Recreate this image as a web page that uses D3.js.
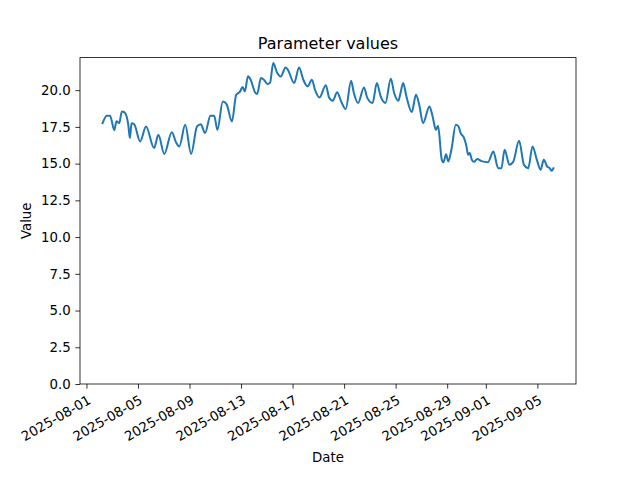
<!DOCTYPE html>
<html>
<head>
<meta charset="utf-8">
<script src="https://cdn.jsdelivr.net/npm/d3@7"></script>
<style>
  html, body { margin: 0; padding: 0; background: #fff; }
  svg { display: block; font-family: "DejaVu Sans", sans-serif; }
</style>
</head>
<body>
<svg id="chart" width="640" height="480"></svg>
<script>
const times = [
  "2025-08-02T06","2025-08-02T14","2025-08-02T20","2025-08-03T04","2025-08-03T08","2025-08-03T13",
  "2025-08-03T18","2025-08-03T23","2025-08-04T06","2025-08-04T09","2025-08-04T12","2025-08-04T17",
  "2025-08-05T04","2025-08-05T15","2025-08-06T06","2025-08-06T14","2025-08-07T01","2025-08-07T15",
  "2025-08-07T23","2025-08-08T05","2025-08-08T16","2025-08-09T03","2025-08-09T14","2025-08-09T21",
  "2025-08-10T05","2025-08-10T15","2025-08-10T22","2025-08-11T04","2025-08-11T14","2025-08-11T21",
  "2025-08-12T07","2025-08-12T15","2025-08-12T22","2025-08-13T03","2025-08-13T07","2025-08-13T13",
  "2025-08-13T18","2025-08-14T02","2025-08-14T06","2025-08-14T13","2025-08-14T19","2025-08-15T01",
  "2025-08-15T06","2025-08-15T12","2025-08-15T19","2025-08-16T02","2025-08-16T11","2025-08-16T15",
  "2025-08-17T03","2025-08-17T12","2025-08-17T20","2025-08-18T04","2025-08-18T12","2025-08-18T18",
  "2025-08-19T02","2025-08-19T14","2025-08-19T20","2025-08-20T03","2025-08-20T11","2025-08-20T19",
  "2025-08-21T03","2025-08-21T13","2025-08-21T18","2025-08-22T02","2025-08-22T13","2025-08-22T19",
  "2025-08-23T05","2025-08-23T13","2025-08-23T20","2025-08-24T05","2025-08-24T15","2025-08-24T21",
  "2025-08-25T05","2025-08-25T09","2025-08-25T14","2025-08-25T20","2025-08-26T06","2025-08-26T14",
  "2025-08-26T20","2025-08-27T03","2025-08-27T15","2025-08-27T21","2025-08-28T03","2025-08-28T07",
  "2025-08-28T14","2025-08-28T17","2025-08-28T22","2025-08-29T02","2025-08-29T08","2025-08-29T16",
  "2025-08-29T21","2025-08-30T01","2025-08-30T07","2025-08-30T12","2025-08-30T15","2025-08-30T18",
  "2025-08-30T22","2025-08-31T02","2025-08-31T08","2025-08-31T16","2025-09-01T04","2025-09-01T14",
  "2025-09-01T23","2025-09-02T05","2025-09-02T11","2025-09-02T20","2025-09-03T03","2025-09-03T14",
  "2025-09-03T23","2025-09-04T07","2025-09-04T15","2025-09-04T23","2025-09-05T06","2025-09-05T12",
  "2025-09-05T18","2025-09-05T23","2025-09-06T03","2025-09-06T06"
];
const values = [
  17.75,18.26,18.26,17.28,17.89,17.75,
  18.55,18.49,17.63,16.74,17.75,17.68,
  16.51,17.53,16.06,16.96,15.66,17.14,
  16.44,16.17,17.64,15.66,17.53,17.68,
  17.08,18.26,18.26,17.3,19.23,19.05,
  17.87,19.68,19.9,20.22,19.92,20.95,
  20.7,19.86,19.74,20.82,20.7,20.42,
  20.5,21.85,21.2,20.93,21.55,21.4,
  20.49,21.55,20.71,20.26,20.71,20.0,
  19.5,20.34,19.5,19.28,19.86,19.19,
  18.71,20.64,19.84,19.12,20.19,19.49,
  19.12,20.49,19.59,19.12,20.78,19.84,
  19.28,19.79,20.49,19.59,18.51,19.68,
  18.99,17.75,18.89,18.19,17.3,17.57,
  15.26,15.1,15.64,15.14,15.98,17.64,
  17.53,17.08,16.78,16.17,15.6,15.72,
  15.26,15.12,15.32,15.17,15.1,15.83,
  14.69,14.69,15.94,14.92,15.12,16.55,
  14.92,14.69,16.17,15.27,14.58,15.26,
  14.82,14.69,14.51,14.69
];
const xTickLabels = ["2025-08-01","2025-08-05","2025-08-09","2025-08-13","2025-08-17",
                     "2025-08-21","2025-08-25","2025-08-29","2025-09-01","2025-09-05"];
const yTickValues = [0, 2.5, 5, 7.5, 10, 12.5, 15, 17.5, 20];
const titleText = "Parameter values";
const xLabelText = "Date";
const yLabelText = "Value";

const parseT = d3.timeParse("%Y-%m-%dT%H");
const parseD = d3.timeParse("%Y-%m-%d");
const data = times.map((t, i) => ({ t: parseT(t), v: values[i] }));
const xTicks = xTickLabels.map(parseD);

const W = 640, H = 480;
const L = 80, R = 576, T = 57.6, B = 384;
const svg = d3.select("#chart");

const ext = d3.extent(data, d => +d.t);
const pad = (ext[1] - ext[0]) * 0.05;
const x = d3.scaleTime().domain([new Date(ext[0] - pad), new Date(ext[1] + pad)]).range([L, R]);
const vmax = d3.max(values), vmin = d3.min(values);
const y = d3.scaleLinear().domain([0, vmax + 0.05 * (vmax - vmin)]).range([B, T]);

const tickLen = 4.67;
const fs = "13.33px";

// y axis
const yAxis = svg.append("g").attr("transform", `translate(${L},0)`)
  .call(d3.axisLeft(y).tickValues(yTickValues).tickFormat(d3.format(".1f"))
        .tickSizeOuter(0).tickSizeInner(tickLen).tickPadding(4.67));
yAxis.select(".domain").remove();
yAxis.selectAll("line").attr("stroke", "#000").attr("stroke-width", 0.8);
yAxis.selectAll("text").attr("font-size", fs).attr("font-family", "DejaVu Sans").attr("fill", "#000");

// x axis
const xAxis = svg.append("g").attr("transform", `translate(0,${B})`)
  .call(d3.axisBottom(x).tickValues(xTicks).tickFormat(d3.timeFormat("%Y-%m-%d"))
        .tickSizeOuter(0).tickSizeInner(tickLen));
xAxis.select(".domain").remove();
xAxis.selectAll("line").attr("stroke", "#000").attr("stroke-width", 0.8);
xAxis.selectAll("text")
  .attr("font-size", fs).attr("font-family", "DejaVu Sans").attr("fill", "#000")
  .attr("text-anchor", "end")
  .attr("dy", "0.75em")
  .attr("y", 0)
  .attr("transform", `translate(0,${tickLen + 5.5}) rotate(-30)`);

// line
const line = d3.line().x(d => x(d.t)).y(d => y(d.v)).curve(d3.curveMonotoneX);
svg.append("path").datum(data)
  .attr("d", line)
  .attr("fill", "none")
  .attr("stroke", "#1f77b4")
  .attr("stroke-width", 2)
  .attr("stroke-linejoin", "round")
  .attr("stroke-linecap", "square");

// frame
svg.append("rect").attr("x", L).attr("y", T).attr("width", R - L).attr("height", B - T)
  .attr("fill", "none").attr("stroke", "#000").attr("stroke-width", 0.8);

// title and labels
svg.append("text").attr("x", (L + R) / 2).attr("y", 49)
  .attr("text-anchor", "middle").attr("font-size", "16px").text(titleText);
svg.append("text").attr("x", (L + R) / 2).attr("y", 462)
  .attr("text-anchor", "middle").attr("font-size", fs).text(xLabelText);
svg.append("text").attr("transform", `translate(31,${(T + B) / 2}) rotate(-90)`)
  .attr("text-anchor", "middle").attr("font-size", fs).text(yLabelText);
</script>
</body>
</html>
